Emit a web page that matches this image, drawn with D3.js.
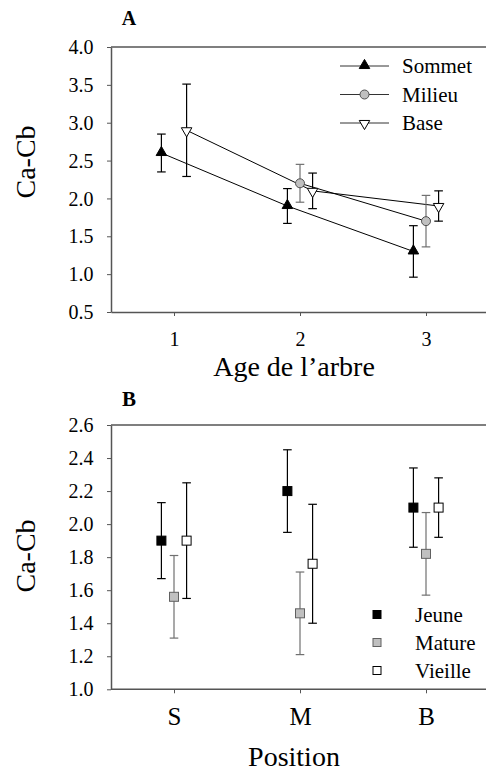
<!DOCTYPE html>
<html>
<head>
<meta charset="utf-8">
<script src="https://cdn.jsdelivr.net/npm/d3@7"></script>
<style>
  body { margin: 0; background: #fff; }
  svg { display: block; }
  text { font-family: "Liberation Serif", "Times New Roman", serif; }
</style>
</head>
<body>
<div id="chart"></div>
<script>
// panel A : Ca-Cb by tree age, one series per position
var ages = [1, 2, 3];
var sommet = [2.6, 1.9, 1.3];
var sommetErr = [0.25, 0.23, 0.34];
var milieu = [null, 2.2, 1.7];
var milieuErr = [null, 0.25, 0.34];
var base = [2.9, 2.1, 1.9];
var baseErr = [0.61, 0.235, 0.2];

// panel B : Ca-Cb by position, one series per tree age
var positions = ["S", "M", "B"];
var jeune = [1.9, 2.2, 2.1];
var jeuneErr = [0.23, 0.25, 0.24];
var mature = [1.56, 1.46, 1.82];
var matureErr = [0.25, 0.25, 0.25];
var vieille = [1.9, 1.76, 2.1];
var vieilleErr = [0.35, 0.36, 0.18];

var yTicksA = [0.5, 1.0, 1.5, 2.0, 2.5, 3.0, 3.5, 4.0];
var yTicksB = [1.0, 1.2, 1.4, 1.6, 1.8, 2.0, 2.2, 2.4, 2.6];

var width = 486, height = 778;
var axisCol = "#555";
var serif = "Liberation Serif";

var svg = d3.select("#chart").append("svg")
    .attr("width", width)
    .attr("height", height)
    .attr("font-family", serif);

function label(g, x, y, txt, size, bold) {
  return g.append("text").attr("x", x).attr("y", y)
    .attr("font-family", serif).attr("font-size", size)
    .attr("font-weight", bold ? "bold" : "normal")
    .attr("fill", "#000").text(txt);
}

// ---------- panel A ----------
var xA = d3.scaleLinear().domain([0.5, 3.5]).range([111, 489]);
var yA = d3.scaleLinear().domain([0.5, 4.0]).range([312, 47]);

var gA = svg.append("g");

var seriesA = [
  {name: "Sommet", vals: sommet, err: sommetErr, off: -0.1, sym: "up", barCol: "#000"},
  {name: "Milieu", vals: milieu, err: milieuErr, off: 0, sym: "circle", barCol: "#707070"},
  {name: "Base", vals: base, err: baseErr, off: 0.1, sym: "down", barCol: "#000"}
];

var lineA = d3.line()
    .x(d => xA(d.x))
    .y(d => yA(d.v));

function pts(s, xs) {
  return xs.map((x, i) => ({x: x + s.off, v: s.vals[i], e: s.err[i]}));
}

// connecting lines
seriesA.forEach(function(s) {
  var p = pts(s, ages).filter(d => d.v != null);
  gA.append("path")
    .datum(p)
    .attr("d", lineA)
    .attr("fill", "none")
    .attr("stroke", "#000")
    .attr("stroke-width", 1);
});

// error bars
function errorBars(g, data, x, y, col) {
  var eb = g.append("g").attr("stroke", col).attr("stroke-width", 1.2);
  data.forEach(function(d) {
    eb.append("line").attr("x1", x(d.x)).attr("x2", x(d.x))
      .attr("y1", y(d.v - d.e)).attr("y2", y(d.v + d.e));
    [d.v - d.e, d.v + d.e].forEach(function(c) {
      eb.append("line").attr("x1", x(d.x) - 4.3).attr("x2", x(d.x) + 4.3)
        .attr("y1", y(c)).attr("y2", y(c));
    });
  });
}

function drawSym(g, type, cx, cy) {
  if (type === "circle") {
    g.append("circle").attr("cx", cx).attr("cy", cy).attr("r", 4.5)
      .attr("fill", "#c0c0c0").attr("stroke", "#505050").attr("stroke-width", 1);
  } else {
    g.append("path")
      .attr("d", d3.symbol().type(d3.symbolTriangle).size(48)())
      .attr("transform", "translate(" + cx + "," + (type === "up" ? cy - 0.5 : cy + 0.5) + ")" + (type === "down" ? " rotate(180)" : ""))
      .attr("fill", type === "up" ? "#000" : "#fff")
      .attr("stroke", "#000")
      .attr("stroke-width", 1);
  }
}

seriesA.forEach(function(s) {
  var p = pts(s, ages).filter(d => d.v != null);
  errorBars(gA, p, xA, yA, s.barCol);
  p.forEach(d => drawSym(gA, s.sym, xA(d.x), yA(d.v)));
});

// axes A
var axA = gA.append("g").attr("transform", "translate(0,312)")
    .call(d3.axisBottom(xA).tickValues(ages).tickFormat(d3.format("d")).tickSize(4).tickSizeOuter(0));
var ayA = gA.append("g").attr("transform", "translate(111,0)")
    .call(d3.axisLeft(yA).tickValues(yTicksA).tickFormat(d3.format(".1f")).tickSize(4).tickSizeOuter(0));
gA.append("line").attr("x1", 111).attr("x2", 486).attr("y1", 47).attr("y2", 47)
  .attr("stroke", axisCol).attr("stroke-width", 1.5);

[axA, ayA].forEach(function(a) {
  a.attr("font-family", serif);
  a.select(".domain").attr("stroke", axisCol).attr("stroke-width", 1.5);
  a.selectAll(".tick line").attr("stroke", axisCol);
  a.selectAll("text").attr("fill", "#000").attr("font-family", serif).attr("font-size", 20);
});
axA.selectAll("text").attr("y", 33.5).attr("dy", null);
ayA.selectAll("text").attr("x", -17.5).attr("dy", "0.33em");

label(gA, 129, 25, "A", 20, true).attr("text-anchor", "middle");
label(gA, 294, 376, "Age de l\u2019arbre", 28).attr("text-anchor", "middle");
label(gA, 0, 0, "Ca-Cb", 28).attr("transform", "translate(35,162) rotate(-90)").attr("text-anchor", "middle");

// legend A
var legA = gA.append("g");
seriesA.forEach(function(s, i) {
  var ly = [66, 94.5, 123][i];
  legA.append("line").attr("x1", 340).attr("x2", 389).attr("y1", ly).attr("y2", ly)
    .attr("stroke", "#333").attr("stroke-width", 1);
  drawSym(legA, s.sym, 364.5, ly);
  label(legA, 402, ly + 7, s.name, 21);
});

// ---------- panel B ----------
var xB = d3.scalePoint().domain(positions).range([174, 426]);
var yB = d3.scaleLinear().domain([1.0, 2.6]).range([689.3, 425]);
var xBn = d3.scaleLinear().domain([0, 2]).range([174, 426]);

var gB = svg.append("g");

var seriesB = [
  {name: "Jeune", vals: jeune, err: jeuneErr, off: -0.1, fill: "#000", stroke: "#000", barCol: "#000"},
  {name: "Mature", vals: mature, err: matureErr, off: 0, fill: "#c0c0c0", stroke: "#606060", barCol: "#707070"},
  {name: "Vieille", vals: vieille, err: vieilleErr, off: 0.1, fill: "#fff", stroke: "#000", barCol: "#000"}
];

seriesB.forEach(function(s) {
  var p = positions.map((c, i) => ({x: i + s.off, v: s.vals[i], e: s.err[i]}));
  errorBars(gB, p, xBn, yB, s.barCol);
  p.forEach(function(d) {
    gB.append("rect").attr("x", xBn(d.x) - 4.5).attr("y", yB(d.v) - 4.5)
      .attr("width", 9).attr("height", 9)
      .attr("fill", s.fill).attr("stroke", s.stroke).attr("stroke-width", 1);
  });
});

var axB = gB.append("g").attr("transform", "translate(0,689.3)")
    .call(d3.axisBottom(xB).tickSize(4).tickSizeOuter(0));
axB.select(".domain").remove();
axB.append("line").attr("x1", 111).attr("x2", 486).attr("y1", 0).attr("y2", 0)
  .attr("stroke", axisCol).attr("stroke-width", 1.5);
var ayB = gB.append("g").attr("transform", "translate(111,0)")
    .call(d3.axisLeft(yB).tickValues(yTicksB).tickFormat(d3.format(".1f")).tickSize(4).tickSizeOuter(0));
gB.append("line").attr("x1", 111).attr("x2", 486).attr("y1", 425).attr("y2", 425)
  .attr("stroke", axisCol).attr("stroke-width", 1.5);

[axB, ayB].forEach(function(a) {
  a.attr("font-family", serif);
  a.select(".domain").attr("stroke", axisCol).attr("stroke-width", 1.5);
  a.selectAll(".tick line").attr("stroke", axisCol);
  a.selectAll("text").attr("fill", "#000").attr("font-family", serif).attr("font-size", 20);
});
axB.selectAll("text").attr("font-size", 25).attr("y", 36).attr("dy", null);
ayB.selectAll("text").attr("x", -17.5).attr("dy", "0.33em");

label(gB, 129, 406, "B", 21, true).attr("text-anchor", "middle");
label(gB, 294, 766, "Position", 28).attr("text-anchor", "middle");
label(gB, 0, 0, "Ca-Cb", 28).attr("transform", "translate(35,556) rotate(-90)").attr("text-anchor", "middle");

// legend B
seriesB.forEach(function(s, i) {
  var ly = [614.5, 642.5, 670.5][i];
  gB.append("rect").attr("x", 373).attr("y", ly - 4).attr("width", 8).attr("height", 8)
    .attr("fill", s.fill).attr("stroke", s.stroke).attr("stroke-width", 1);
  label(gB, 415, ly + 7, s.name, 21);
});
</script>
</body>
</html>
